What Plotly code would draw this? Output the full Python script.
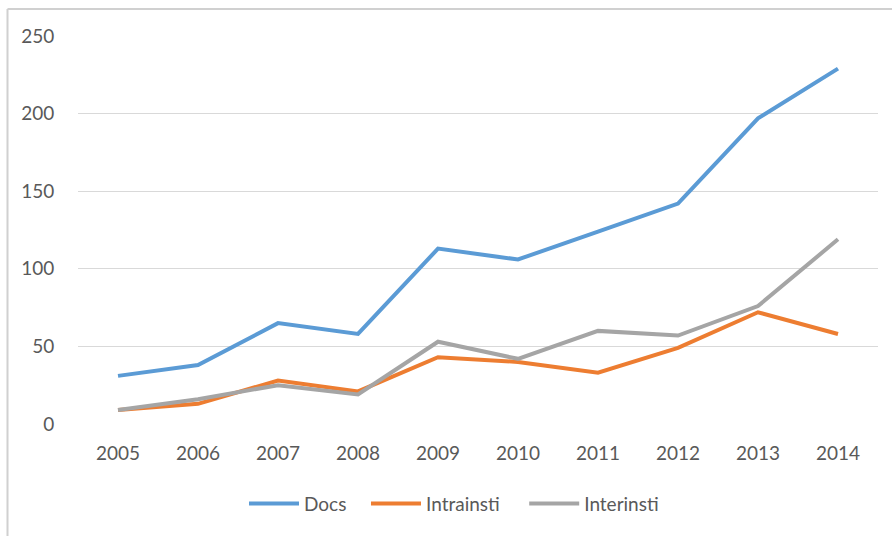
import plotly.graph_objects as go

years = ["2005", "2006", "2007", "2008", "2009", "2010", "2011", "2012", "2013", "2014"]
docs = [31, 38, 65, 58, 113, 106, 124, 142, 197, 229]
intrainsti = [9, 13, 28, 21, 43, 40, 33, 49, 72, 58]
interinsti = [9, 16, 25, 19, 53, 42, 60, 57, 76, 119]
y_ticks = [0, 50, 100, 150, 200, 250]

series = [
    ("Docs", docs, "#5B9BD5", 3),
    ("Intrainsti", intrainsti, "#ED7D31", 4),
    ("Interinsti", interinsti, "#A5A5A5", 0),
]

fig = go.Figure()
for name, vals, color, npad in series:
    fig.add_trace(go.Scatter(x=years, y=vals, name=name + "\u00a0" * npad, mode="lines",
                             line=dict(color=color, width=4)))

W, H = 892, 536
L, R, T, B = 78, 14, 36, 112
pw = W - L - R
ph = H - T - B

fig.update_layout(
    width=W, height=H,
    margin=dict(l=L, r=R, t=T, b=B),
    paper_bgcolor="white", plot_bgcolor="white",
    font=dict(family="Lato, 'Open Sans', sans-serif", size=19, color="#595959"),
    showlegend=True,
    legend=dict(orientation="h", x=(244 - L) / pw, xanchor="left", y=-0.205, yanchor="middle",
                font=dict(size=19, color="#595959"), itemwidth=50, tracegroupgap=0),
    xaxis=dict(type="category", range=[-0.5, 9.5], showgrid=False, zeroline=False,
               showline=False, ticks="outside", ticklen=12, tickcolor="rgba(0,0,0,0)",
               fixedrange=True),
    yaxis=dict(range=[0, 250], tickvals=y_ticks, showgrid=True, gridcolor="#D9D9D9",
               gridwidth=1, zeroline=False, showline=False, ticks="outside", ticklen=19,
               tickcolor="rgba(0,0,0,0)", fixedrange=True),
)

# chart border (left and top edges only visible)
x_left = (7.5 - L) / pw
x_right = (W - L) / pw
y_top = (T + ph - 9) / ph
y_bottom = (T + ph - H) / ph
fig.add_shape(type="line", xref="paper", yref="paper", x0=x_left, x1=x_left,
              y0=y_bottom, y1=y_top, line=dict(color="#D0D0D0", width=2))
fig.add_shape(type="line", xref="paper", yref="paper", x0=x_left, x1=x_right,
              y0=y_top, y1=y_top, line=dict(color="#D0D0D0", width=2))

fig.write_html("out.html")
